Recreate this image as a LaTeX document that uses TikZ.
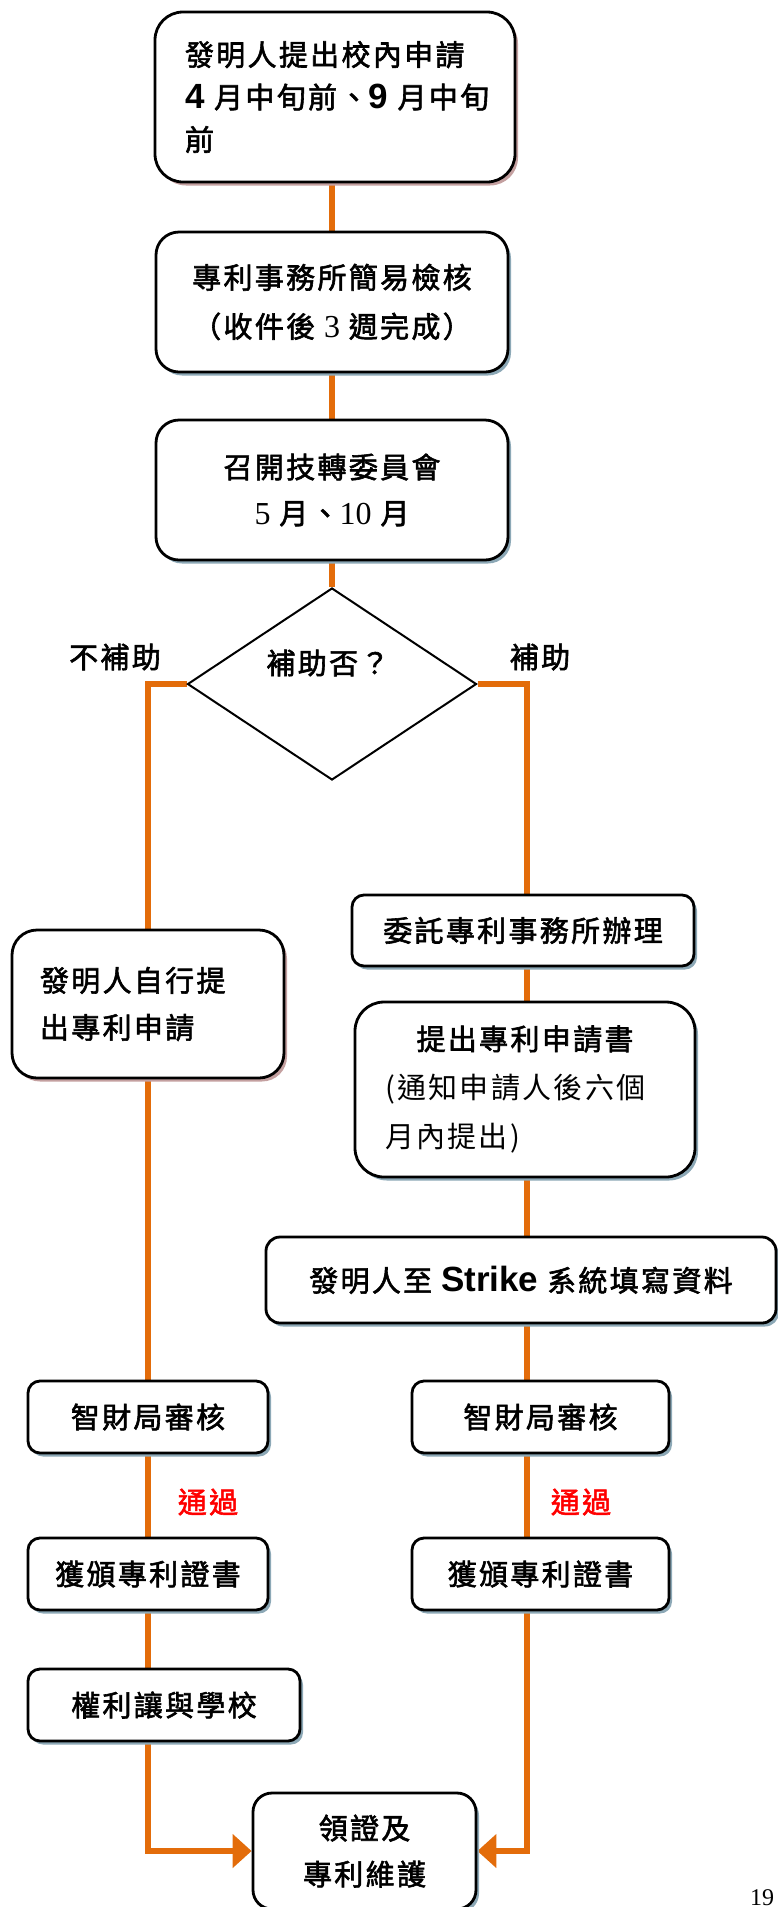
\documentclass[tikz,border=0pt]{standalone}
\usepackage{fontspec}
\setmainfont{Liberation Serif}
\usetikzlibrary{shapes.geometric,shadows,arrows.meta,backgrounds}
\newfontfamily\cjk[LetterSpace=8,FakeBold=2]{Noto Sans CJK TC}
\newfontfamily\cjkl[LetterSpace=8]{Noto Sans CJK TC}
\newfontfamily\arialf{Liberation Sans}
\newfontfamily\tnr{Liberation Serif}
\definecolor{lineor}{HTML}{E36C0A}
\definecolor{shpink}{RGB}{196,160,160}
\definecolor{shblue}{RGB}{140,168,182}
\newcommand\ar[1]{{\arialf\bfseries\fontsize{35}{42}\selectfont #1}}
\newcommand\tn[1]{{\tnr\fontsize{32}{42}\selectfont #1}}
\begin{document}
\begin{tikzpicture}[x=1pt,y=-1pt,
  box/.style={draw=black,line width=2.8pt,fill=white,inner sep=0pt,
    font=\cjk\fontsize{29}{42}\selectfont,
    drop shadow={shadow xshift=3pt,shadow yshift=-3.5pt,fill=#1,opacity=1}},
  box/.default=shblue,
  lbl/.style={inner sep=0pt,font=\cjk\fontsize{29}{42}\selectfont},
  conn/.style={draw=lineor,line width=6pt},
  tip/.style={-{Triangle[length=19pt,width=33pt]}}]
\useasboundingbox (0,0) rectangle (778,1907);

% main column
\node[box=shpink,rounded corners=28pt,minimum width=360pt,minimum height=170pt,
  text width=300pt,align=left,font=\cjk\fontsize{29}{42.5}\selectfont] (b1) at (335,97)
  {發明人提出校內申請\\\mbox{\ar{4} 月中旬前、\ar{9} 月中旬}\\前};
\node[box,rounded corners=23pt,minimum width=352pt,minimum height=140pt,align=center,
  font=\cjk\fontsize{29}{49}\selectfont] (b2) at (332,302)
  {專利事務所簡易檢核\\（收件後 \tn{3} 週完成）};
\node[box,rounded corners=23pt,minimum width=352pt,minimum height=140pt,align=center,
  font=\cjk\fontsize{29}{46}\selectfont] (b3) at (332,490)
  {召開技轉委員會\\\tn{5} 月、\tn{10} 月};
\node[diamond,draw=black,line width=2pt,fill=white,inner sep=0pt,
  minimum width=289pt,minimum height=192pt] (d) at (332,684) {};
\node[lbl] (q) at (328,663) {補助否？};
\node[lbl] (no) at (115,657) {不補助};
\node[lbl] (yes) at (540,657) {補助};
\coordinate (rx) at (527,684);

% left branch
\node[box=shpink,rounded corners=25pt,minimum width=272pt,minimum height=148pt,
  text width=216pt,align=left,font=\cjk\fontsize{29}{47}\selectfont] (L1) at (148,1004)
  {發明人自行提\\出專利申請};
\node[box,rounded corners=12pt,minimum width=240pt,minimum height=72pt] (L2) at (148,1417) {智財局審核};
\node[lbl,text=red] (p1) at (208,1502) {通過};
\node[box,rounded corners=12pt,minimum width=240pt,minimum height=72pt] (L3) at (148,1574) {獲頒專利證書};
\node[box,rounded corners=12pt,minimum width=272pt,minimum height=72pt] (L4) at (164,1705) {權利讓與學校};

% right branch
\node[box,rounded corners=12pt,minimum width=342pt,minimum height=71pt] (R1) at (523,930.5) {委託專利事務所辦理};
\node[box,rounded corners=29pt,minimum width=340pt,minimum height=175pt,
  text width=280pt,align=left,font=\cjk\fontsize{29}{49}\selectfont] (R2) at (525,1089.5)
  {\makebox[280pt][c]{提出專利申請書}\\{\cjkl (通知申請人後六個}\\{\cjkl 月內提出)}};
\node[box,rounded corners=14pt,minimum width=510pt,minimum height=86pt] (R3) at (521,1280)
  {發明人至 \ar{Strike} 系統填寫資料\hspace{20pt}};
\node[box,rounded corners=12pt,minimum width=257pt,minimum height=72pt] (R4) at (540.5,1417) {智財局審核};
\node[lbl,text=red] (p2) at (581,1502) {通過};
\node[box,rounded corners=12pt,minimum width=257pt,minimum height=72pt] (R5) at (540.5,1574) {獲頒專利證書};

% final
\node[box,rounded corners=19pt,minimum width=223pt,minimum height=116pt,align=center,
  font=\cjk\fontsize{29}{46}\selectfont] (F) at (364.5,1851) {領證及\\專利維護};

\node[inner sep=0pt,anchor=base,font=\tnr\fontsize{24}{24}\selectfont] (pg) at (762,1905) {19};

\begin{scope}[on background layer]
\draw[conn] (b1.south -| d.north) -- (b2.north -| d.north);
\draw[conn] (b2.south -| d.north) -- (b3.north -| d.north);
\draw[conn] (b3.south -| d.north) -- (d.north);
\draw[conn] (d.west) -| (L1.north);
\draw[conn] (d.east) -- (rx) -- (rx |- R1.north);
\draw[conn] (L1.south) -- (L2.north);
\draw[conn] (L2.south) -- (L3.north);
\draw[conn] (L3.south) -- (L3.south |- L4.north);
\draw[conn,tip] (L4.south -| L3.south) |- (F.west);
\draw[conn] (R1.south -| rx) -- (R2.north -| rx);
\draw[conn] (R2.south -| rx) -- (R3.north -| rx);
\draw[conn] (R3.south -| rx) -- (R4.north -| rx);
\draw[conn] (R4.south -| rx) -- (R5.north -| rx);
\draw[conn,tip] (R5.south -| rx) |- (F.east);
\end{scope}
\end{tikzpicture}
\end{document}
